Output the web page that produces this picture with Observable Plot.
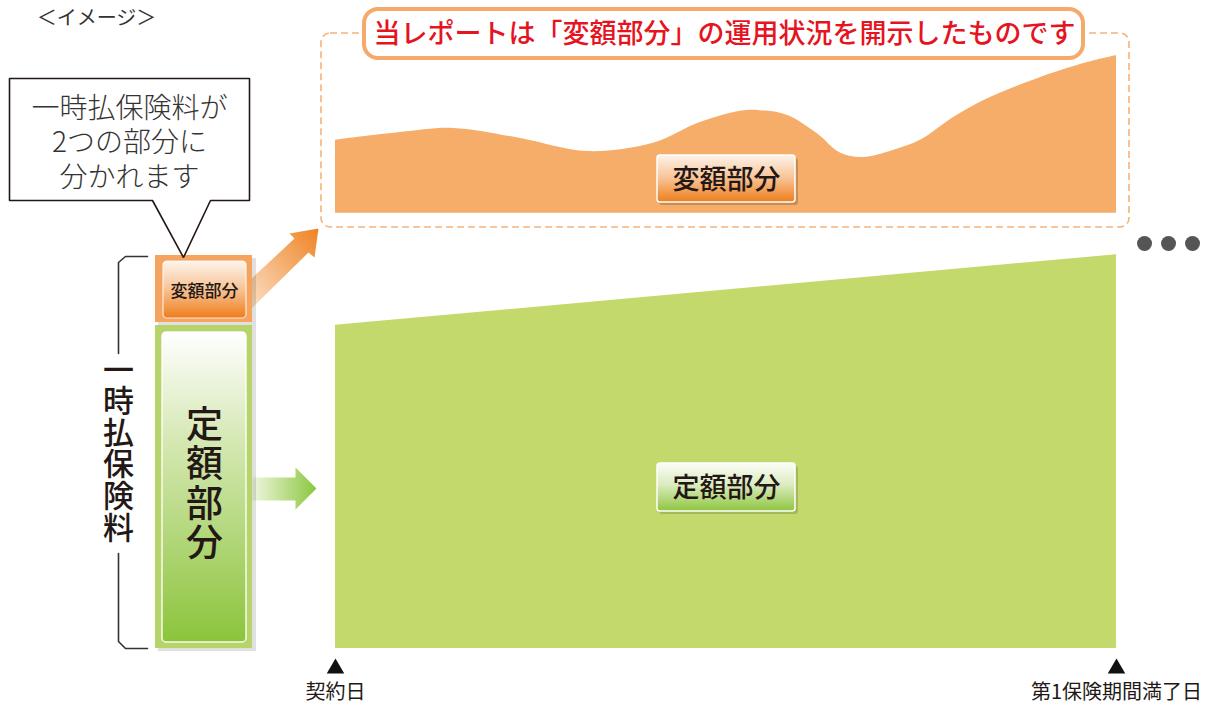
<!DOCTYPE html>
<html><head><meta charset="utf-8">
<script src="https://cdn.jsdelivr.net/npm/d3@7"></script>
<script src="https://cdn.jsdelivr.net/npm/@observablehq/plot@0.6"></script>
<style>html,body{margin:0;padding:0;background:#fff;overflow:hidden}</style>
</head><body><div id="chart"></div>
<script>
// ---- data ----
const timeTicks = [0, 1];
const timeLabels = ["契約日", "第1保険期間満了日"];
const variableT = [0, 0.083, 0.151, 0.237, 0.323, 0.407, 0.467, 0.519, 0.544, 0.579, 0.617, 0.647, 0.676, 0.714, 0.749, 0.791, 0.835, 0.899, 0.963, 1];
const variableV = [85.7, 87.0, 87.7, 86.0, 83.8, 85.2, 88.7, 90.6, 90.7, 89.9, 86.8, 83.5, 82.8, 84.0, 85.7, 89.5, 92.7, 96.1, 98.8, 100];
const variableBase = 73.4;
const fixedT = [0, 1];
const fixedV = [54.5, 66.4];
const fixedBase = 0;
const partLabels = ["変額部分", "定額部分"];
const titleText = "当レポートは「変額部分」の運用状況を開示したものです";
const calloutLines = ["一時払保険料が", "2つの部分に", "分かれます"];
const bracketLabel = "一時払保険料";
const imageLabel = "＜イメージ＞";
const moreDots = [0, 1, 2];

const variableData = variableT.map((t, i) => ({t, v: variableV[i]}));
const fixedData = fixedT.map((t, i) => ({t, v: fixedV[i]}));

// ---- layout helpers (pixel -> scale units) ----
const fx = p => (p - 335) / 781;
const fy = p => (648 - p) / 5.93;
const FONT = "'Noto Sans CJK JP', 'Noto Sans', sans-serif";

const box = (x1, y1, x2, y2, o) => Plot.rect([0], {x1: fx(x1), x2: fx(x2), y1: fy(y1), y2: fy(y2), ...o});
const txt = (s, px, py, o) => Plot.text([s], {x: fx(px), y: fy(py), text: d => d, textAnchor: "middle", lineAnchor: "middle", fontFamily: FONT, ...o});
const poly = (pts, o) => Plot.line(pts, {x: d => fx(d[0]), y: d => fy(d[1]), curve: "linear", ...o});

const defs = () => {
  const d = d3.create("svg:defs");
  const grad = (id, stops, v = true) => {
    const g = d.append("linearGradient").attr("id", id)
      .attr("x1", 0).attr("y1", 0).attr("x2", v ? 0 : 1).attr("y2", v ? 1 : 0);
    stops.forEach(([o, c, a]) => g.append("stop").attr("offset", o).attr("stop-color", c).attr("stop-opacity", a ?? 1));
  };
  grad("gOrangeBox", [[0, "#fdf4ec"], [0.5, "#f8c293"], [1, "#ee7d1b"]]);
  grad("gGreenBox", [[0, "#fbfdf6"], [0.45, "#dcebc0"], [1, "#8dc63f"]]);
  grad("gGreenBar", [[0, "#ffffff"], [0.35, "#d5e8b3"], [1, "#8cc43c"]]);
  grad("gGreenArrow", [[0, "#eef6df"], [1, "#8cc63f"]], false);
  const ga = d.append("linearGradient").attr("id", "gOrangeArrow").attr("x1", 0).attr("y1", 1).attr("x2", 1).attr("y2", 0);
  ga.append("stop").attr("offset", 0).attr("stop-color", "#fbe3cc");
  ga.append("stop").attr("offset", 1).attr("stop-color", "#ef8323");
  return d.node();
};

const chart = Plot.plot({
  width: 1216, height: 706,
  x: {domain: [0, 1], range: [335, 1116], axis: null},
  y: {domain: [0, 100], range: [648, 55], axis: null},
  style: {fontFamily: FONT, background: "#fff"},
  marks: [
    defs,
    // data areas
    Plot.areaY(variableData, {x: "t", y1: variableBase, y2: "v", curve: "catmull-rom", fill: "#f5ad69"}),
    Plot.areaY(fixedData, {x: "t", y1: fixedBase, y2: "v", curve: "linear", fill: "#c3d96b"}),
    // dashed frame around variable part
    box(321, 33, 1129, 227, {fill: "none", stroke: "#f6b27a", strokeWidth: 1.6, strokeDasharray: "7,4", rx: 9}),
    // title box
    box(364, 9, 1083, 58, {fill: "#fff", stroke: "#f5a96a", strokeWidth: 4, rx: 14}),
    txt(titleText, 724, 34, {fontSize: 27, fill: "#e5141f", fontWeight: 500}),
    // in-chart labels
    box(659, 158, 798, 205, {fill: "#000", fillOpacity: 0.18, rx: 3}),
    box(657, 155, 795, 202, {fill: "url(#gOrangeBox)", stroke: "#fff", strokeWidth: 1.5, rx: 3}),
    txt(partLabels[0], 726, 180, {fontSize: 27, fill: "#231815", fontWeight: 500}),
    box(659, 466, 798, 514, {fill: "#000", fillOpacity: 0.15, rx: 3}),
    box(657, 463, 795, 511, {fill: "url(#gGreenBox)", stroke: "#fff", strokeWidth: 1.5, rx: 3}),
    txt(partLabels[1], 726, 488, {fontSize: 27, fill: "#231815", fontWeight: 500}),
    // arrows
    poly([[248, 281], [294, 238], [289, 233], [318, 228], [314, 257], [308, 252], [248, 311], [248, 281]], {fill: "url(#gOrangeArrow)", stroke: "none"}),
    poly([[252, 477], [295, 477], [295, 467], [316, 488], [295, 509], [295, 500], [252, 500], [252, 477]], {fill: "url(#gGreenArrow)", stroke: "none"}),
    // left stacked bar
    box(158, 258, 256, 651, {fill: "#000", fillOpacity: 0.12}),
    box(155, 255, 252, 322, {fill: "#f5a460"}),
    box(163, 261, 246, 318, {fill: "url(#gOrangeBox)", stroke: "#fff", strokeWidth: 1.2, strokeOpacity: 0.8, rx: 4}),
    txt(partLabels[0], 204, 291, {fontSize: 17, fill: "#231815", fontWeight: 500}),
    box(155, 325, 252, 648, {fill: "#b7d46a"}),
    box(162, 332, 246, 642, {fill: "url(#gGreenBar)", stroke: "#fff", strokeWidth: 1.5, strokeOpacity: 0.9, rx: 4}),
    txt(partLabels[1].split("").join("\n"), 204, 484, {fontSize: 37, lineHeight: 1.06, fill: "#231815", fontWeight: 500}),
    // bracket
    poly([[147, 256], [125, 256], [118, 262], [118, 353]], {stroke: "#333", strokeWidth: 1.6, fill: "none"}),
    poly([[118, 553], [118, 641], [125, 648], [147, 648]], {stroke: "#333", strokeWidth: 1.6, fill: "none"}),
    txt(bracketLabel.split("").join("\n"), 118, 449, {fontSize: 31, lineHeight: 1.02, fill: "#231815", fontWeight: 500}),
    // callout
    poly([[9, 78], [249, 78], [249, 200], [210, 200], [183, 257], [152, 200], [9, 200], [9, 78]], {stroke: "#231815", strokeWidth: 1.6, fill: "#fff", strokeLinejoin: "miter"}),
    txt(calloutLines.join("\n"), 129, 141, {fontSize: 28, lineHeight: 1.22, fill: "#333", fontWeight: 300}),
    // image label
    txt(imageLabel, 96, 18, {fontSize: 20, fill: "#333", fontWeight: 400}),
    // continuation dots
    Plot.dot(moreDots, {x: d => fx(1144 + d * 24), y: fy(243), r: 7.5, fill: "#555"}),
    // timeline markers
    Plot.dot(timeTicks, {x: d => d, y: fy(668), symbol: "triangle", r: 6.5, fill: "#111"}),
    Plot.text(timeTicks, {x: d => d, y: fy(692), text: (d, i) => timeLabels[i], fontSize: 20, fill: "#231815", fontFamily: FONT, textAnchor: "middle"})
  ]
});
document.getElementById("chart").appendChild(chart);
</script>
</body></html>
